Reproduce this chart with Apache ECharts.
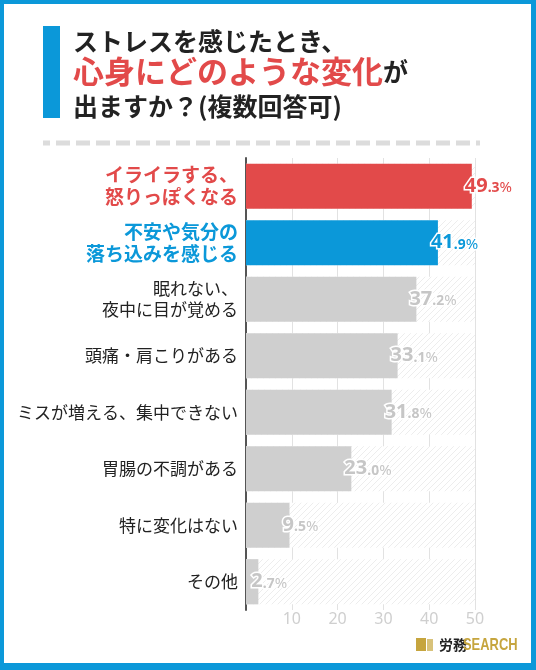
<!DOCTYPE html>
<html>
<head>
<meta charset="utf-8">
<script src="https://cdn.jsdelivr.net/npm/echarts@6/dist/echarts.min.js"></script>
<style>
  html, body { margin: 0; padding: 0; background: #fff; }
  #main { width: 536px; height: 670px; }
</style>
</head>
<body>
<div id="main"></div>
<script>
var categories = [
  'イライラする、\n怒りっぽくなる',
  '不安や気分の\n落ち込みを感じる',
  '眠れない、\n夜中に目が覚める',
  '頭痛・肩こりがある',
  'ミスが増える、集中できない',
  '胃腸の不調がある',
  '特に変化はない',
  'その他'
];
var values = [49.3, 41.9, 37.2, 33.1, 31.8, 23.0, 9.5, 2.7];
var xTicks = [10, 20, 30, 40, 50];

var RED = '#e24a4a';
var BLUE = '#0b98d9';
var GRAY = '#cfcfcf';
var FONT = '"Noto Sans CJK JP", "Noto Sans", sans-serif';

// highlight colours for the first two rows, the rest are gray
var barColors = [RED, BLUE];
function colorAt(i) { return barColors[i] || GRAY; }
function labelColorAt(i) { return barColors[i] || '#c6c6c6'; }

// hatched background behind bars
var hatch = document.createElement('canvas');
hatch.width = 6; hatch.height = 6;
var hc = hatch.getContext('2d');
hc.fillStyle = '#fff';
hc.fillRect(0, 0, 6, 6);
hc.strokeStyle = '#ededed';
hc.lineWidth = 1;
hc.beginPath();
hc.moveTo(0, 6); hc.lineTo(6, 0);
hc.moveTo(-1, 1); hc.lineTo(1, -1);
hc.moveTo(5, 7); hc.lineTo(7, 5);
hc.stroke();

var myChart = echarts.init(document.getElementById('main'));

var option = {
  backgroundColor: '#fff',
  animation: false,
  textStyle: { fontFamily: FONT },
  grid: { left: 246, right: 61, top: 158, bottom: 60 },
  xAxis: {
    type: 'value',
    min: 0,
    max: 50,
    interval: 10,
    axisLine: { show: false },
    axisTick: { show: false },
    splitLine: { lineStyle: { color: '#e2e2e2', width: 1 } },
    axisLabel: {
      margin: 1,
      color: '#cfcfcf',
      fontSize: 16,
      fontFamily: '"Noto Sans", sans-serif',
      formatter: function (v) { return xTicks.indexOf(v) >= 0 ? String(v) : ''; }
    }
  },
  yAxis: {
    type: 'category',
    data: categories,
    inverse: true,
    axisLine: { lineStyle: { color: '#555', width: 2 } },
    axisTick: { show: false },
    axisLabel: {
      margin: 8,
      align: 'right',
      formatter: function (v, i) {
        var key = i === 0 ? 'r' : (i === 1 ? 'b' : 'n');
        return v.split('\n').map(function (s) { return '{' + key + '|' + s + '}'; }).join('\n');
      },
      rich: {
        r: { color: RED, fontSize: 19, fontWeight: 'bold', lineHeight: 22, fontFamily: FONT },
        b: { color: BLUE, fontSize: 19, fontWeight: 'bold', lineHeight: 22, fontFamily: FONT },
        n: { color: '#222', fontSize: 17, lineHeight: 21, fontFamily: FONT }
      }
    }
  },
  series: [{
    type: 'bar',
    barCategoryGap: '20%',
    showBackground: true,
    backgroundStyle: { color: { image: hatch, repeat: 'repeat' } },
    data: values.map(function (v, i) {
      return {
        value: v,
        itemStyle: { color: colorAt(i) },
        label: {
          rich: {
            a: { color: labelColorAt(i), fontSize: 20, fontWeight: 'bold', fontFamily: '"Noto Sans", sans-serif',
                 textBorderColor: '#fff', textBorderWidth: 3 },
            d: { color: labelColorAt(i), fontSize: 14, fontWeight: 'bold', fontFamily: '"Noto Sans", sans-serif',
                 textBorderColor: '#fff', textBorderWidth: 3, padding: [4, 0, 0, 0] },
            p: { color: labelColorAt(i), fontSize: 15, fontFamily: '"Noto Sans", sans-serif',
                 textBorderColor: '#fff', textBorderWidth: 3, padding: [3, 0, 0, 0] }
          }
        }
      };
    }),
    label: {
      show: true,
      position: 'right',
      distance: 0,
      offset: [-7, 0],
      formatter: function (p) {
        var parts = p.value.toFixed(1).split('.');
        return '{a|' + parts[0] + '}{d|.' + parts[1] + '}{p|%}';
      }
    }
  }],
  graphic: [
    // blue frame
    { type: 'rect', z: -10, silent: true, shape: { x: 0, y: 0, width: 536, height: 670 }, style: { fill: BLUE } },
    { type: 'rect', z: -9, silent: true, shape: { x: 4, y: 4, width: 527, height: 659 }, style: { fill: '#fff' } },
    // title
    { type: 'rect', shape: { x: 43, y: 26, width: 17, height: 92 }, style: { fill: BLUE } },
    { type: 'text', x: 73, y: 41, style: { text: 'ストレスを感じたとき、', fill: '#222', font: 'bold 25px ' + FONT, verticalAlign: 'middle' } },
    {
      type: 'text', x: 73, y: 71,
      style: {
        text: '{r|心身にどのような変化}{k|が}',
        verticalAlign: 'middle',
        rich: {
          r: { fill: RED, font: 'bold 31px ' + FONT },
          k: { fill: '#222', font: 'bold 25px ' + FONT }
        }
      }
    },
    { type: 'text', x: 73, y: 106, style: { text: '出ますか？(複数回答可)', fill: '#222', font: 'bold 25px ' + FONT, verticalAlign: 'middle' } },
    // dashed separator
    {
      type: 'line', shape: { x1: 43, y1: 143, x2: 480, y2: 143 },
      style: { stroke: '#dcdcdc', lineWidth: 5, lineDash: [14, 6], lineDashOffset: 7 }
    },
    // logo
    { type: 'rect', shape: { x: 416, y: 638, width: 10, height: 13 }, style: { fill: '#c6a53e' } },
    { type: 'rect', shape: { x: 427, y: 639, width: 6, height: 12 }, style: { fill: '#d8c27a' } },
    { type: 'text', x: 439, y: 645, style: { text: '労務', fill: '#222', font: 'bold 14px ' + FONT, verticalAlign: 'middle' } },
    { type: 'text', x: 463, y: 645, scaleX: 0.76, style: { text: 'SEARCH', fill: '#c6a53e', font: 'bold 17px "Liberation Sans", sans-serif', verticalAlign: 'middle' } }
  ]
};

myChart.setOption(option);
</script>
</body>
</html>
